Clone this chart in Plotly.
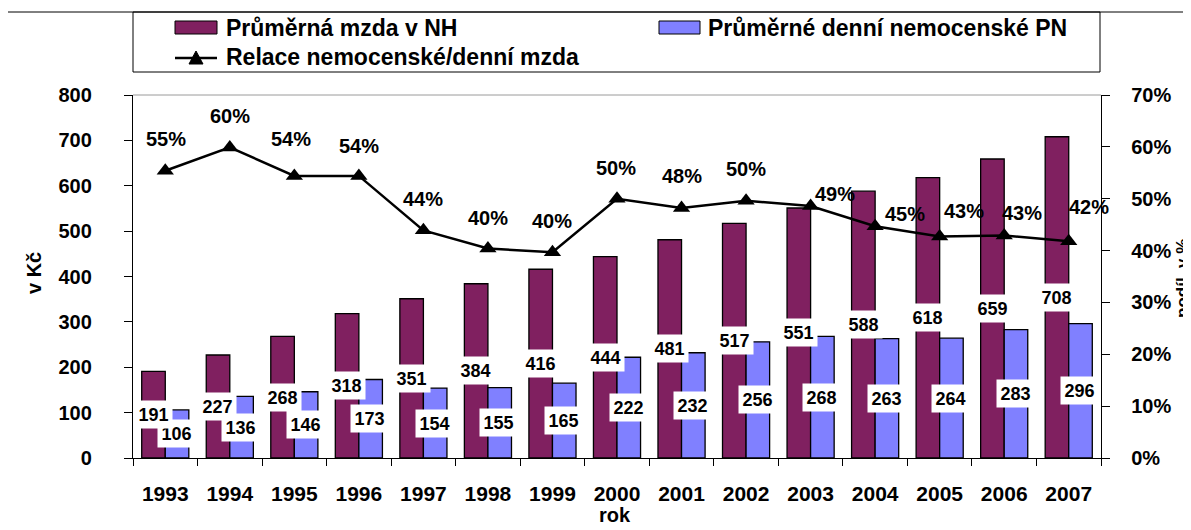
import plotly.graph_objects as go

years = ["1993", "1994", "1995", "1996", "1997", "1998", "1999", "2000",
         "2001", "2002", "2003", "2004", "2005", "2006", "2007"]
mzda = [191, 227, 268, 318, 351, 384, 416, 444, 481, 517, 551, 588, 618, 659, 708]
nemoc = [106, 136, 146, 173, 154, 155, 165, 222, 232, 256, 268, 263, 264, 283, 296]
relace = [55.4, 59.9, 54.4, 54.4, 43.9, 40.4, 39.7, 50.0, 48.2, 49.6, 48.6, 44.7, 42.7, 42.9, 41.8]

name_mzda = "Průměrná mzda v NH"
name_nemoc = "Průměrné denní nemocenské PN"
name_rel = "Relace nemocenské/denní mzda"

C_MZDA = "#802060"
C_NEMOC = "#8080FF"
FONT = "Liberation Sans, Arial, sans-serif"

# page body has an 8px margin -> figure is shrunk by that amount
S = 8
W, H = 1191 - S, 530 - S
PL, PR, PT, PB = 133, 1101, 95, 458   # plot area in screen pixels


def px(x):
    return (x - PL) / (PR - PL)


def py(y):
    return (PB - y) / (PB - PT)


fig = go.Figure()
fig.add_trace(go.Bar(x=years, y=mzda, name=name_mzda, marker=dict(color=C_MZDA, line=dict(color="black", width=1.3))))
fig.add_trace(go.Bar(x=years, y=nemoc, name=name_nemoc, marker=dict(color=C_NEMOC, line=dict(color="black", width=1.3))))
fig.add_trace(go.Scatter(x=years, y=relace, name=name_rel, yaxis="y2", mode="lines+markers",
                         line=dict(color="black", width=2.5),
                         marker=dict(symbol="triangle-up", size=15, color="black")))

annotations = []
lab_font = dict(family=FONT, size=18, color="black", weight="bold")
# bar value labels with white boxes, centered in bars (x = category index)
for i, v in enumerate(nemoc):
    annotations.append(dict(x=i, y=v / 2, xref="x", yref="y", text=str(v), showarrow=False,
                            xanchor="center", yanchor="middle",
                            xshift=11, bgcolor="white", width=35, height=25, borderpad=1, font=lab_font))
for i, v in enumerate(mzda):
    annotations.append(dict(x=i, y=v / 2, xref="x", yref="y", text=str(v), showarrow=False,
                            xanchor="center", yanchor="middle",
                            xshift=-12, bgcolor="white", width=35, height=25, borderpad=1, font=lab_font))

# percentage labels (offsets in px)
pct_dx = [1, 0, -3, 0, 0, 0, 0, -1, 0, 0, 24, 30, 24, 18, 20]
pct_dy = [32, 31, 37, 30, 31, 31, 31, 31, 32, 32, 12, 12, 26, 23, 34]
for i, (v, dx, dy) in enumerate(zip(relace, pct_dx, pct_dy)):
    annotations.append(dict(x=i, y=v, xref="x", yref="y2", text=f"{v:.0f}%", showarrow=False,
                            xanchor="center", yanchor="middle", xshift=dx, yshift=dy,
                            font=dict(family=FONT, size=20, color="black", weight="bold")))


def paper_text(x, y, text, size, angle=0, xanchor="center"):
    return dict(x=px(x), y=py(y), xref="paper", yref="paper", text=text, textangle=angle,
                xanchor=xanchor, yanchor="middle", showarrow=False,
                font=dict(family=FONT, size=size, color="black", weight="bold"))


# axis titles
annotations.append(paper_text(34, 273, "v Kč", 20, -90))
annotations.append(paper_text(1182, 279, "podíl  v %", 17, -90))
annotations.append(paper_text(615, 515, "rok", 20))

# manual legend texts
annotations.append(paper_text(224, 28, name_mzda, 23, xanchor="left"))
annotations.append(paper_text(706, 28, name_nemoc, 23, xanchor="left"))
annotations.append(paper_text(224, 57, name_rel, 23, xanchor="left"))

shapes = []
# outer chart border (top + left)
shapes.append(dict(type="path", xref="paper", yref="paper", line=dict(color="black", width=1),
                   path=f"M {px(3)},{py(540)} L {px(3)},{py(12)} L {px(1200)},{py(12)}"))
# legend box
shapes.append(dict(type="rect", xref="paper", yref="paper", x0=px(133), x1=px(1100), y0=py(72), y1=py(12),
                   line=dict(color="black", width=1), fillcolor="white", layer="below"))
# swatches
shapes.append(dict(type="rect", xref="paper", yref="paper", x0=px(175), x1=px(217), y0=py(34), y1=py(21),
                   line=dict(color="black", width=1), fillcolor=C_MZDA))
shapes.append(dict(type="rect", xref="paper", yref="paper", x0=px(659), x1=px(700), y0=py(34), y1=py(21),
                   line=dict(color="black", width=1), fillcolor=C_NEMOC))
shapes.append(dict(type="line", xref="paper", yref="paper", x0=px(175), x1=px(217), y0=py(58), y1=py(58),
                   line=dict(color="black", width=2.5)))
shapes.append(dict(type="path", xref="paper", yref="paper", fillcolor="black", line=dict(color="black", width=1),
                   path=f"M {px(189)},{py(64)} L {px(203)},{py(64)} L {px(196)},{py(51)} Z"))
# plot area top border
shapes.append(dict(type="line", xref="paper", yref="paper", x0=0, x1=1, y0=1, y1=1,
                   line=dict(color="#9a9a9a", width=1)))

tick_font = dict(family=FONT, size=20, color="black", weight="bold")

fig.update_layout(
    width=W, height=H, autosize=False,
    margin=dict(l=PL - S, r=1191 - PR, t=PT - S, b=530 - PB),
    paper_bgcolor="white", plot_bgcolor="white",
    barmode="group", bargap=0.27, bargroupgap=0,
    showlegend=False,
    xaxis=dict(type="category", categoryorder="array", categoryarray=years,
               range=[-0.5, len(years) - 0.5], autorange=False,
               showline=True, linecolor="black", linewidth=1.3,
               ticks="outside", tickson="boundaries", ticklen=7, tickcolor="black",
               tickfont=dict(family=FONT, size=21, color="black", weight="bold"),
               tickangle=0, ticklabelstandoff=17, showgrid=False, zeroline=False),
    yaxis=dict(range=[0, 800], dtick=100, showline=True, linecolor="black", linewidth=1.3,
               ticks="outside", ticklen=8, tickcolor="black", tickfont=tick_font,
               ticklabelstandoff=28, showgrid=False, zeroline=False),
    yaxis2=dict(range=[0, 70], dtick=10, ticksuffix="%", overlaying="y", side="right",
                showline=True, linecolor="black", linewidth=1.3,
                ticks="outside", ticklen=8, tickcolor="black", tickfont=tick_font,
                ticklabelstandoff=17, showgrid=False, zeroline=False),
    annotations=annotations,
    shapes=shapes,
)

fig.write_html("out.html")
